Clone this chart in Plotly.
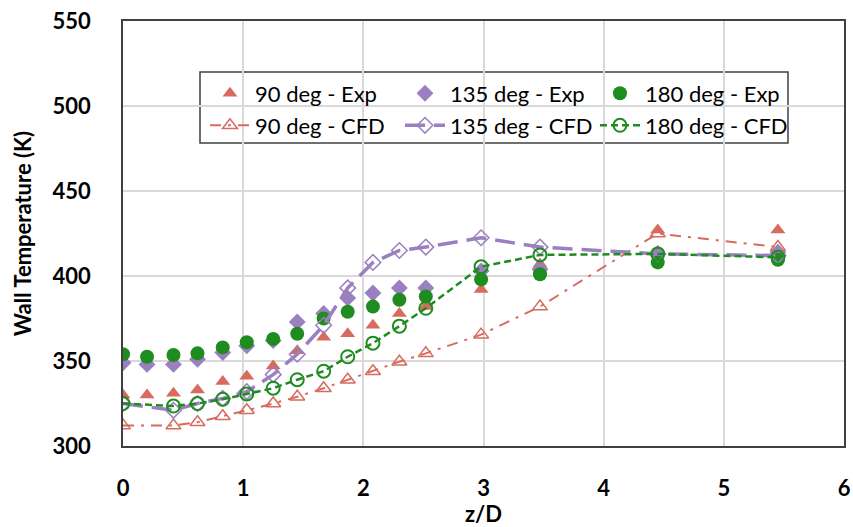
import plotly.graph_objects as go

# Exp data positions (z/D)
z_exp = [0, 0.2, 0.42, 0.62, 0.83, 1.03, 1.25, 1.45, 1.67, 1.87, 2.08, 2.3, 2.52, 2.98, 3.47, 4.45, 5.45]
t90_exp = [330, 330, 331, 333, 338, 341, 347, 356, 364, 366, 371, 378, 382, 392, 407, 427, 427]
t135_exp = [349, 348, 348, 351, 355, 359, 362, 373, 378, 387, 390, 393, 393, 403, 404, 413, 414]
t180_exp = [354, 352.5, 353.5, 354.5, 358, 361, 363, 366, 375, 379, 382, 386, 388, 398, 401, 408, 409.5]

# CFD data positions (z/D)
z_cfd = [0, 0.42, 0.62, 0.83, 1.03, 1.25, 1.45, 1.67, 1.87, 2.08, 2.3, 2.52, 2.98, 3.47, 4.45, 5.45]
t90_cfd = [312, 312, 314, 317.5, 321, 325, 329, 334, 339, 344, 349.6, 354.5, 365.5, 382, 425, 417]
t135_cfd = [325, 321, 325, 328, 332, 342, 354, 371, 393, 408, 415, 417, 422.5, 417, 413, 412]
t180_cfd = [325, 323.5, 325, 327.5, 330.6, 334, 339, 344, 352.5, 360.5, 370.5, 381, 405.5, 412.4, 413, 411]

x_ticks = [0, 1, 2, 3, 4, 5, 6]
y_ticks = [300, 350, 400, 450, 500, 550]

RED = "#d86a5f"
PURPLE = "#9a80c0"
GREEN = "#1f8c1f"
FONT = "Lato"

fig = go.Figure()

fig.add_trace(go.Scatter(x=z_exp, y=t90_exp, mode="markers", name="90 deg - Exp",
                         marker=dict(symbol="triangle-up", size=13, color=RED), legend="legend"))
fig.add_trace(go.Scatter(x=z_exp, y=t135_exp, mode="markers", name="135 deg - Exp",
                         marker=dict(symbol="diamond", size=13, color=PURPLE), legend="legend"))
fig.add_trace(go.Scatter(x=z_exp, y=t180_exp, mode="markers", name="180 deg - Exp",
                         marker=dict(symbol="circle", size=14, color=GREEN), legend="legend"))
fig.add_trace(go.Scatter(x=z_cfd, y=t90_cfd, mode="lines+markers", name="90 deg - CFD",
                         line=dict(color=RED, width=2, dash="11px,7px,3px,7px"),
                         marker=dict(symbol="triangle-up-open", size=13, color=RED, line=dict(width=1.5)),
                         legend="legend2"))
fig.add_trace(go.Scatter(x=z_cfd, y=t135_cfd, mode="lines+markers", name="135 deg - CFD",
                         line=dict(color=PURPLE, width=3.5, dash="20px,9px"),
                         marker=dict(symbol="diamond-open", size=12, color=PURPLE, line=dict(width=1.5)),
                         legend="legend2"))
fig.add_trace(go.Scatter(x=z_cfd, y=t180_cfd, mode="lines+markers", name="180 deg - CFD",
                         line=dict(color=GREEN, width=2.5, dash="7px,4px"),
                         marker=dict(symbol="circle-open", size=13, color=GREEN, line=dict(width=2)),
                         legend="legend2"))

leg_common = dict(
    orientation="h", xanchor="left", yanchor="top",
    bgcolor="rgba(0,0,0,0)", borderwidth=0,
    font=dict(family=FONT, size=22, color="black"),
    entrywidth=140, entrywidthmode="pixels",
    traceorder="normal", itemwidth=40,
)

fig.update_layout(
    width=853, height=527,
    margin=dict(l=123, r=9, t=21, b=81, autoexpand=False),
    paper_bgcolor="white", plot_bgcolor="white",
    font=dict(family=FONT, color="black"),
    showlegend=True,
    legend=dict(x=0.1137, y=0.879, **leg_common),
    legend2=dict(x=0.1137, y=0.8035, **leg_common),
    shapes=[dict(type="rect", xref="paper", yref="paper",
                 x0=0.1068, x1=0.9223, y0=0.713, y1=0.88,
                 line=dict(color="#404040", width=1.5), fillcolor="white", layer="below")],
    xaxis=dict(
        range=[0, 6], tickvals=x_ticks, ticktext=[str(v) for v in x_ticks],
        showgrid=True, gridcolor="#d9d9d9", gridwidth=2,
        showline=True, linecolor="#404040", linewidth=1.5, mirror=True,
        ticks="", ticklabelstandoff=22, automargin=False,
        tickfont=dict(family=FONT, size=22, color="black", weight="bold"),
        title=dict(text="<b>z/D</b>", font=dict(family=FONT, size=22, color="black"), standoff=8),
        zeroline=False,
    ),
    yaxis=dict(
        range=[300, 550], tickvals=y_ticks, ticktext=[str(v) for v in y_ticks],
        showgrid=True, gridcolor="#d9d9d9", gridwidth=2,
        showline=True, linecolor="#404040", linewidth=1.5, mirror=True,
        ticks="", ticklabelstandoff=26, automargin=False,
        tickfont=dict(family=FONT, size=22, color="black", weight="bold"),
        title=dict(text="<b>Wall Temperature (K)</b>", font=dict(family=FONT, size=22, color="black"), standoff=15),
        zeroline=False,
    ),
)

fig.write_html("out.html")
